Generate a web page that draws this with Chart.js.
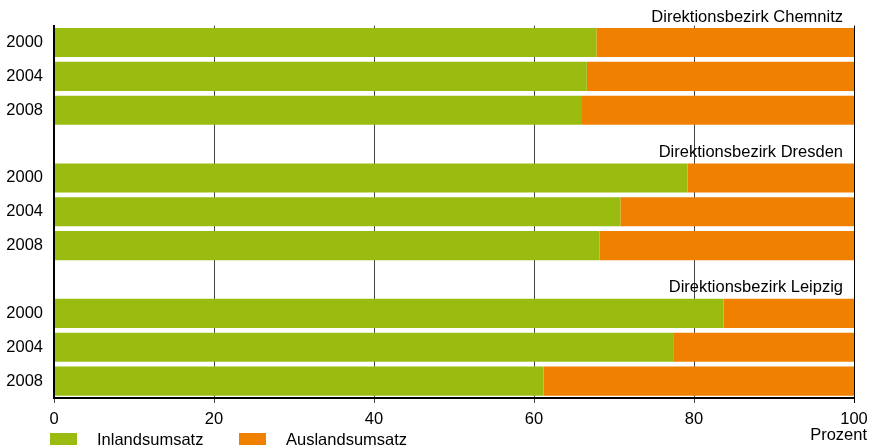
<!DOCTYPE html>
<html>
<head>
<meta charset="utf-8">
<style>
  html, body { margin: 0; padding: 0; background: #fff; }
  canvas { display: block; }
</style>
<script src="https://cdn.jsdelivr.net/npm/chart.js@4"></script>
</head>
<body>
<canvas id="chart" width="871" height="447"></canvas>
<script>
// data (percent)
const years = ['2000', '2004', '2008'];
const districts = ['Direktionsbezirk Chemnitz', 'Direktionsbezirk Dresden', 'Direktionsbezirk Leipzig'];
const chemnitzInland = [67.8, 66.6, 66.0];
const chemnitzAusland = [32.2, 33.4, 34.0];
const dresdenInland = [79.2, 70.8, 68.2];
const dresdenAusland = [20.8, 29.2, 31.8];
const leipzigInland = [83.7, 77.4, 61.2];
const leipzigAusland = [16.3, 22.6, 38.8];
const xTicks = [0, 20, 40, 60, 80, 100];
const seriesNames = ['Inlandsumsatz', 'Auslandsumsatz'];
const colors = ['#9abc10', '#ef8000'];

const FONT = 'Liberation Sans, Arial, Helvetica, sans-serif';

// one empty row between the districts
const labels = [...years, '', ...years, '', ...years];
const inland = [...chemnitzInland, null, ...dresdenInland, null, ...leipzigInland];
const ausland = [...chemnitzAusland, null, ...dresdenAusland, null, ...leipzigAusland];

const extras = {
    id: 'extras',
    afterDatasetsDraw(chart) {
        // left axis line on top of the bars' first pixel
        const ctx = chart.ctx;
        const area = chart.chartArea;
        ctx.save();
        ctx.fillStyle = '#000';
        ctx.fillRect(area.left - 1, area.top, 2, area.bottom - area.top + 1);
        ctx.restore();
    },
    afterDraw(chart) {
        const ctx = chart.ctx;
        const y = chart.scales.y;
        const area = chart.chartArea;
        ctx.save();
        ctx.fillStyle = '#000';
        ctx.font = '16.5px ' + FONT;
        ctx.textBaseline = 'alphabetic';

        // district titles above each group
        ctx.textAlign = 'right';
        districts.forEach((name, i) => {
            ctx.fillText(name, area.right - 11, y.getPixelForValue(i * 4) - 21);
        });

        // unit under the axis
        ctx.fillText('Prozent', 867, 440);

        // legend bottom left
        ctx.textAlign = 'left';
        seriesNames.forEach((name, i) => {
            const x = 50 + i * 189;
            ctx.fillStyle = colors[i];
            ctx.fillRect(x, 433, 27, 12);
            ctx.fillStyle = '#000';
            ctx.fillText(name, x + 47, 445);
        });
        ctx.restore();
    }
};

new Chart(document.getElementById('chart'), {
    type: 'bar',
    data: {
        labels: labels,
        datasets: [
            { label: seriesNames[0], data: inland, backgroundColor: colors[0] },
            { label: seriesNames[1], data: ausland, backgroundColor: colors[1] },
        ],
    },
    options: {
        indexAxis: 'y',
        responsive: false,
        animation: false,
        devicePixelRatio: 1,
        categoryPercentage: 1,
        barPercentage: 0.86,
        layout: { padding: { top: 25.6, right: 17, left: 0, bottom: 0 } },
        plugins: { legend: { display: false }, tooltip: { enabled: false } },
        scales: {
            x: {
                stacked: true,
                min: 0,
                max: 100,
                afterBuildTicks: (s) => { s.ticks = xTicks.map(v => ({ value: v })); },
                afterFit: (s) => { s.height = 49; s.paddingLeft = 0; s.paddingRight = 0; },
                ticks: { color: '#000', font: { size: 16.5, family: FONT }, padding: 7, maxRotation: 0 },
                grid: {
                    color: (c) => (c.tick && c.tick.value === 100 ? '#000' : '#444'),
                    lineWidth: 1,
                    tickLength: 5,
                },
                border: { color: '#000', width: 2 },
            },
            y: {
                stacked: true,
                afterFit: (s) => { s.width = 54; s.paddingTop = 0; s.paddingBottom = 0; },
                ticks: { color: '#000', font: { size: 16.5, family: FONT }, padding: 11 },
                grid: { display: false, drawTicks: false },
                border: { color: '#000', width: 2 },
            },
        },
    },
    plugins: [extras],
});
</script>
</body>
</html>
